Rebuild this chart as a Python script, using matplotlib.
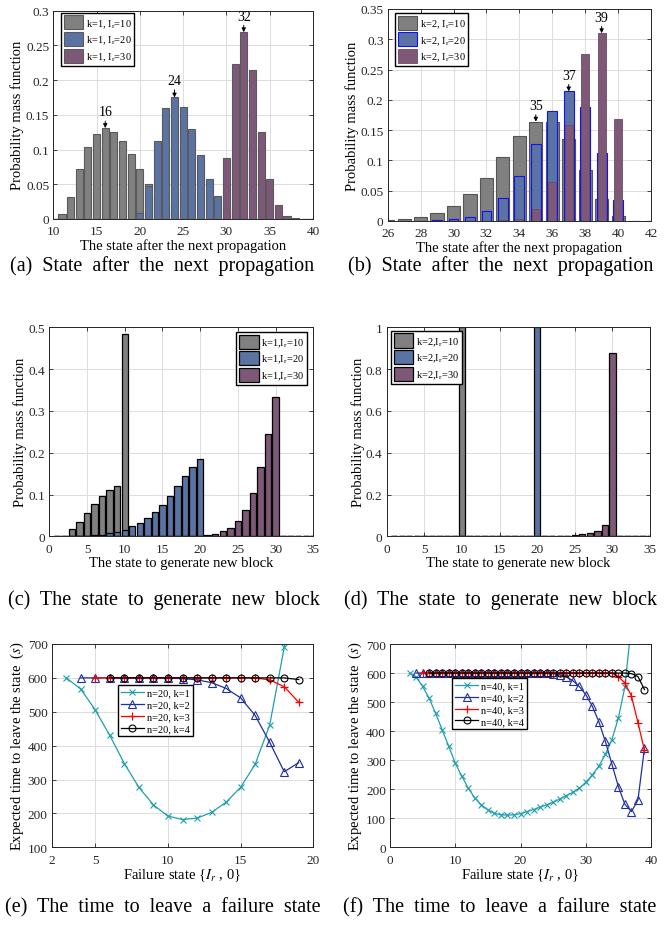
import numpy as np
import matplotlib
matplotlib.use('Agg')
import matplotlib.pyplot as plt
from matplotlib.ticker import FormatStrFormatter

plt.rcParams['font.family'] = ['Liberation Serif', 'DejaVu Serif']
plt.rcParams['mathtext.fontset'] = 'stix'
plt.rcParams['axes.linewidth'] = 0.7
plt.rcParams['xtick.direction'] = 'in'
plt.rcParams['ytick.direction'] = 'in'
plt.rcParams['xtick.top'] = True
plt.rcParams['ytick.right'] = True
plt.rcParams['xtick.major.size'] = 3
plt.rcParams['ytick.major.size'] = 3
plt.rcParams['xtick.labelsize'] = 9.5
plt.rcParams['ytick.labelsize'] = 9.5
plt.rcParams['xtick.major.pad'] = 4.5
plt.rcParams['ytick.major.pad'] = 3

# ---- (a) k=1, state after next propagation ----
xa = np.arange(10, 41)
a_ir10 = [0, 0.007, 0.031, 0.072, 0.104, 0.123, 0.131, 0.126, 0.112, 0.093, 0.072,
          0.051, 0.033, 0.020, 0.011, 0.005, 0.002, 0.001, 0, 0, 0,
          0, 0, 0, 0, 0, 0, 0, 0, 0, 0]
a_ir20 = [0, 0, 0, 0, 0, 0, 0, 0, 0, 0, 0.009,
          0.048, 0.112, 0.160, 0.175, 0.161, 0.129, 0.092, 0.058, 0.033, 0.016,
          0.007, 0.003, 0.001, 0, 0, 0, 0, 0, 0, 0]
a_ir30 = [0, 0, 0, 0, 0, 0, 0, 0, 0, 0, 0,
          0, 0, 0, 0, 0, 0, 0, 0, 0, 0.088,
          0.223, 0.269, 0.214, 0.126, 0.057, 0.020, 0.005, 0.001, 0.0005, 0]

# ---- (b) k=2, state after next propagation ----
xb = np.arange(26, 43)
b_ir10 = [0.001, 0.003, 0.007, 0.013, 0.025, 0.044, 0.071, 0.105, 0.140,
          0.164, 0.164, 0.135, 0.085, 0.037, 0.008, 0, 0]
b_ir20 = [0, 0, 0.0005, 0.001, 0.003, 0.007, 0.017, 0.038, 0.075,
          0.127, 0.182, 0.214, 0.189, 0.113, 0.035, 0, 0]
b_ir30 = [0, 0, 0, 0, 0, 0, 0, 0.001, 0.004,
          0.020, 0.064, 0.158, 0.275, 0.310, 0.169, 0, 0]

# ---- (c) k=1, state to generate new block ----
xc = np.arange(1, 36)
c_ir10 = [0, 0, 0.017, 0.035, 0.056, 0.078, 0.097, 0.111, 0.121, 0.485,
          0, 0, 0, 0, 0, 0, 0, 0, 0, 0,
          0, 0, 0, 0, 0, 0, 0, 0, 0, 0,
          0, 0, 0, 0, 0]
c_ir20 = [0, 0, 0, 0, 0, 0.002, 0.004, 0.008, 0.011, 0.016,
          0.024, 0.033, 0.044, 0.058, 0.076, 0.097, 0.121, 0.145, 0.166, 0.186,
          0, 0, 0, 0, 0, 0, 0, 0, 0, 0,
          0, 0, 0, 0, 0]
c_ir30 = [0, 0, 0, 0, 0, 0, 0, 0, 0, 0,
          0, 0, 0, 0, 0, 0, 0, 0, 0, 0,
          0.003, 0.006, 0.012, 0.021, 0.037, 0.063, 0.104, 0.165, 0.245, 0.334,
          0, 0, 0, 0, 0]

# ---- (d) k=2, state to generate new block ----
xd = np.arange(1, 36)
d_ir10 = [0, 0, 0, 0, 0, 0, 0, 0, 0, 1.0,
          0, 0, 0, 0, 0, 0, 0, 0, 0, 0,
          0, 0, 0, 0, 0, 0, 0, 0, 0, 0,
          0, 0, 0, 0, 0]
d_ir20 = [0, 0, 0, 0, 0, 0, 0, 0, 0, 0,
          0, 0, 0, 0, 0, 0, 0, 0, 0, 1.0,
          0, 0, 0, 0, 0, 0, 0, 0, 0, 0,
          0, 0, 0, 0, 0]
d_ir30 = [0, 0, 0, 0, 0, 0, 0, 0, 0, 0,
          0, 0, 0, 0, 0, 0, 0, 0, 0, 0,
          0, 0, 0, 0.003, 0.008, 0.011, 0.017, 0.027, 0.055, 0.875,
          0, 0, 0, 0, 0]

# ---- (e) n=20, expected time to leave failure state ----
e_k1 = [600, 567, 505, 430, 347, 277, 225, 192, 182, 186, 203, 233, 277, 345, 461, 690, 1100]
e_k2 = [600, 600, 600, 600, 600, 600, 599, 598, 594, 586, 569, 541, 489, 410, 323, 350]
e_k3 = [600, 600, 600, 600, 600, 600, 600, 600, 600, 600, 600, 600, 594, 574, 528]
e_k4 = [600, 600, 600, 600, 600, 600, 600, 600, 600, 600, 600, 600, 600, 595]

# ---- (f) n=40 ----
f_k1 = [600, 586, 554, 513, 461, 404, 348, 290, 245, 203, 170, 146, 129, 117, 112, 111,
        112, 116, 123, 130, 138, 146, 155, 166, 178, 189, 203, 224, 249, 279, 320, 370,
        445, 553, 770, 1050, 1400]
f_k2 = [600, 600, 600, 600, 600, 600, 600, 600, 600, 600, 600, 600, 600, 600, 600, 600,
        600, 600, 600, 600, 599, 598, 594, 587, 574, 554, 526, 486, 433, 365, 287, 209,
        148, 123, 163, 342]
f_k3 = [600, 600, 600, 600, 600, 600, 600, 600, 600, 600, 600, 600, 600, 600, 600, 600,
        600, 600, 600, 600, 600, 600, 600, 600, 600, 600, 600, 600, 600, 600, 588, 566,
        521, 429, 334]
f_k4 = [600, 600, 600, 600, 600, 600, 600, 600, 600, 600, 600, 600, 600, 600, 600, 600,
        600, 600, 600, 600, 600, 600, 600, 600, 600, 600, 600, 600, 600, 600, 600, 598,
        588, 543]

GRAY = '#808080'
BLUE = '#5b73a2'
PURP = '#7d5877'
INK = '#262626'
LBL = 10.5

W, H = 672, 928
fig = plt.figure(figsize=(W / 100, H / 100), dpi=100)


def box(l, r, t, b):
    return [l / W, 1 - b / H, (r - l) / W, (b - t) / H]


def style(ax):
    ax.grid(True, color='#dcdcdc', lw=0.7)
    ax.set_axisbelow(True)
    ax.tick_params(colors=INK, labelcolor=INK, width=0.6)
    for s in ax.spines.values():
        s.set_color(INK)


def leg(ax, loc, anchor):
    ax.legend(loc=loc, bbox_to_anchor=anchor, borderaxespad=0, fontsize=7.5,
              handlelength=1.9, handleheight=1.7, labelspacing=0.25,
              handletextpad=0.25, borderpad=0.25, fancybox=False,
              edgecolor='k', framealpha=1)


def arrow(ax, x, y, ytext, label):
    ax.annotate(label, xy=(x, y), xytext=(x, ytext), ha='center', va='bottom',
                fontsize=10, arrowprops=dict(arrowstyle='-|>', color='k', lw=0.7,
                                             mutation_scale=6, shrinkA=0, shrinkB=0))


# (a)
ax = fig.add_axes(box(53.3, 313, 11.7, 220))
style(ax)
ax.bar(xa, a_ir10, 0.82, color=GRAY, edgecolor='#5a5a5a', lw=0.8, label=r'k=1, I$_\mathregular{r}$=10')
ax.bar(xa, a_ir20, 0.82, color=BLUE, edgecolor='#5a5a5a', lw=0.8, label=r'k=1, I$_\mathregular{r}$=20')
ax.bar(xa, a_ir30, 0.82, color=PURP, edgecolor='#5a5a5a', lw=0.8, label=r'k=1, I$_\mathregular{r}$=30')
ax.set_xlim(10, 40)
ax.set_ylim(0, 0.3)
ax.set_xticks(np.arange(10, 41, 5))
ax.set_yticks(np.arange(0, 0.31, 0.05))
ax.yaxis.set_major_formatter(FormatStrFormatter('%g'))
arrow(ax, 16, 0.131, 0.145, '16')
arrow(ax, 24, 0.175, 0.19, '24')
arrow(ax, 32, 0.269, 0.283, '32')
ax.set_xlabel('The state after the next propagation', fontsize=LBL, labelpad=1)
ax.set_ylabel('Probability mass function', fontsize=LBL, labelpad=1)
leg(ax, 'upper left', (0.03, 0.99))

# (b)
ax = fig.add_axes(box(387.7, 651, 10, 222))
style(ax)
ax.bar(xb, b_ir10, 0.8, color=GRAY, edgecolor='#555555', lw=0.8, label=r'k=2, I$_\mathregular{r}$=10')
ax.bar(xb, b_ir20, 0.6, color=BLUE, edgecolor='#1010ff', lw=0.8, label=r'k=2, I$_\mathregular{r}$=20')
ax.bar(xb, b_ir30, 0.5, color=PURP, edgecolor='#6a4a66', lw=0.6, label=r'k=2, I$_\mathregular{r}$=30')
ax.set_xlim(26, 42)
ax.set_ylim(0, 0.35)
ax.set_xticks(np.arange(26, 43, 2))
ax.set_yticks(np.arange(0, 0.351, 0.05))
ax.yaxis.set_major_formatter(FormatStrFormatter('%g'))
arrow(ax, 35, 0.164, 0.18, '35')
arrow(ax, 37, 0.214, 0.23, '37')
arrow(ax, 39, 0.310, 0.326, '39')
ax.set_xlabel('The state after the next propagation', fontsize=LBL, labelpad=1)
ax.set_ylabel('Probability mass function', fontsize=LBL, labelpad=1)
leg(ax, 'upper left', (0.028, 0.981))

# (c)
ax = fig.add_axes(box(49.3, 313.3, 328.3, 537.3))
style(ax)
ax.bar(xc, c_ir10, 0.85, color=GRAY, edgecolor='k', lw=0.9, label=r'k=1,I$_\mathregular{r}$=10')
ax.bar(xc, c_ir20, 0.85, color=BLUE, edgecolor='k', lw=0.9, label=r'k=1,I$_\mathregular{r}$=20')
ax.bar(xc, c_ir30, 0.85, color=PURP, edgecolor='k', lw=0.9, label=r'k=1,I$_\mathregular{r}$=30')
ax.set_xlim(0, 35)
ax.set_ylim(0, 0.5)
ax.set_xticks(np.arange(0, 36, 5))
ax.set_yticks(np.arange(0, 0.51, 0.1))
ax.yaxis.set_major_formatter(FormatStrFormatter('%g'))
ax.set_xlabel('The state to generate new block', fontsize=LBL, labelpad=1)
ax.set_ylabel('Probability mass function', fontsize=LBL, labelpad=1)
leg(ax, 'upper right', (0.976, 0.978))

# (d)
ax = fig.add_axes(box(386.7, 650, 328.3, 537.3))
style(ax)
ax.bar(xd, d_ir10, 0.85, color=GRAY, edgecolor='k', lw=0.9, label=r'k=2,I$_\mathregular{r}$=10')
ax.bar(xd, d_ir20, 0.85, color=BLUE, edgecolor='k', lw=0.9, label=r'k=2,I$_\mathregular{r}$=20')
ax.bar(xd, d_ir30, 0.85, color=PURP, edgecolor='k', lw=0.9, label=r'k=2,I$_\mathregular{r}$=30')
ax.set_xlim(0, 35)
ax.set_ylim(0, 1)
ax.set_xticks(np.arange(0, 36, 5))
ax.set_yticks(np.arange(0, 1.01, 0.2))
ax.yaxis.set_major_formatter(FormatStrFormatter('%g'))
ax.set_xlabel('The state to generate new block', fontsize=LBL, labelpad=1)
ax.set_ylabel('Probability mass function', fontsize=LBL, labelpad=1)
leg(ax, 'upper left', (0.016, 0.983))

# (e)
TEAL = '#1f9fad'
NAVY = '#1f2f9f'
ax = fig.add_axes(box(51.7, 313.3, 645, 848.3))
style(ax)
ax.plot(np.arange(3, 20), e_k1, '-x', color=TEAL, lw=0.9, ms=4.5, mew=0.8, label='n=20, k=1')
ax.plot(np.arange(4, 20), e_k2, '-^', color=NAVY, lw=0.9, ms=5.5, mew=0.8, mfc='none', label='n=20, k=2')
ax.plot(np.arange(5, 20), e_k3, '-+', color='red', lw=0.9, ms=5.5, mew=0.9, label='n=20, k=3')
ax.plot(np.arange(6, 20), e_k4, '-o', color='k', lw=0.9, ms=5, mew=0.8, mfc='none', label='n=20, k=4')
ax.set_xlim(2, 20)
ax.set_ylim(100, 700)
ax.set_xticks([2, 5, 10, 15, 20])
ax.set_yticks(np.arange(100, 701, 100))
ax.set_xlabel(r'Failure state {$I_r$ , 0}', fontsize=LBL, labelpad=1)
ax.set_ylabel(r'Expected time to leave the state  ($s$)', fontsize=LBL, labelpad=1)
ax.legend(loc='upper left', bbox_to_anchor=(0.253, 0.798), borderaxespad=0, fontsize=7.5,
          handlelength=2.2, labelspacing=0.25, handletextpad=0.3, borderpad=0.3,
          fancybox=False, edgecolor='k', framealpha=1)

# (f)
ax = fig.add_axes(box(390, 651, 645, 848.3))
style(ax)
ax.plot(np.arange(3, 40), f_k1, '-x', color=TEAL, lw=0.9, ms=4.5, mew=0.8, label='n=40, k=1')
ax.plot(np.arange(4, 40), f_k2, '-^', color=NAVY, lw=0.9, ms=5.5, mew=0.8, mfc='none', label='n=40, k=2')
ax.plot(np.arange(5, 40), f_k3, '-+', color='red', lw=0.9, ms=5.5, mew=0.9, label='n=40, k=3')
ax.plot(np.arange(6, 40), f_k4, '-o', color='k', lw=0.9, ms=5, mew=0.8, mfc='none', label='n=40, k=4')
ax.set_xlim(0, 40)
ax.set_ylim(0, 700)
ax.set_xticks(np.arange(0, 41, 10))
ax.set_yticks(np.arange(0, 701, 100))
ax.set_xlabel(r'Failure state {$I_r$ , 0}', fontsize=LBL, labelpad=1)
ax.set_ylabel(r'Expected time to leave the state  ($s$)', fontsize=LBL, labelpad=1)
ax.legend(loc='upper left', bbox_to_anchor=(0.2375, 0.833), borderaxespad=0, fontsize=7.5,
          handlelength=2.2, labelspacing=0.25, handletextpad=0.3, borderpad=0.3,
          fancybox=False, edgecolor='k', framealpha=1)

# captions
caps = [('(a)  State  after  the  next  propagation', 162, 266),
        ('(b)  State  after  the  next  propagation', 501, 266),
        ('(c)  The  state  to  generate  new  block', 164, 600),
        ('(d)  The  state  to  generate  new  block', 500, 600),
        ('(e)  The  time  to  leave  a  failure  state', 163, 908),
        ('(f)  The  time  to  leave  a  failure  state', 500, 908)]
for txt, cx, cy in caps:
    fig.text(cx / W, 1 - cy / H, txt, ha='center', va='center', fontsize=14.5)

fig.savefig('out.png', dpi=100)
